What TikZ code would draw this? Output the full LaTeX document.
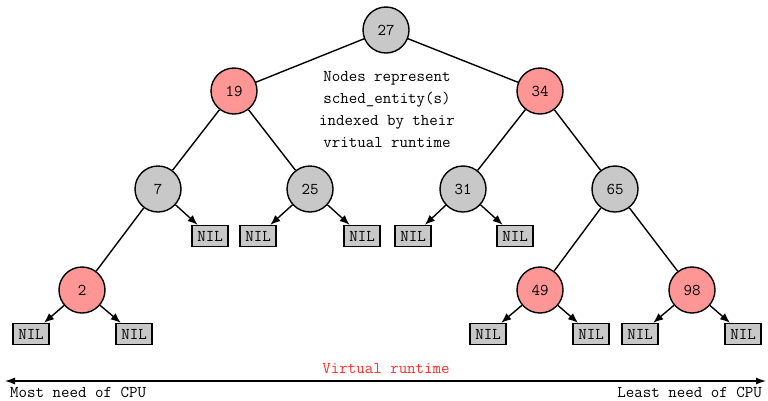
\documentclass[tikz,border=0pt]{standalone}
\usetikzlibrary{arrows.meta}
\definecolor{NodeGray}{HTML}{C8C8C8}
\definecolor{NodeRed}{HTML}{FF9696}
\definecolor{LabelRed}{HTML}{FF3030}

\begin{document}
\begin{tikzpicture}[
      x=1pt, y=-1pt,
      every node/.style={font=\fontsize{16.5}{22}\ttfamily},
      blk/.style={circle, draw, line width=1.4pt, fill=NodeGray, minimum size=46pt, inner sep=0pt},
      red/.style={circle, draw, line width=1.4pt, fill=NodeRed, minimum size=46pt, inner sep=0pt},
      nil/.style={draw, line width=1.4pt, fill=NodeGray, minimum width=36pt, minimum height=21pt, inner sep=0pt},
      edge/.style={line width=1.4pt},
      arrow/.style={-{Latex[length=10pt,width=8pt]}, line width=1.4pt}
    ]
    \useasboundingbox (0,0) rectangle (768,400);

    % tree nodes
    \node[blk] (n27) at (386,30) {27};
    \node[red] (n19) at (234,91) {19};
    \node[red] (n34) at (540,91) {34};
    \node[blk] (n7)  at (158,189) {7};
    \node[blk] (n25) at (310,189) {25};
    \node[blk] (n31) at (463,189) {31};
    \node[blk] (n65) at (615,189) {65};
    \node[red] (n2)  at (82,290) {2};
    \node[red] (n49) at (540,290) {49};
    \node[red] (n98) at (692,290) {98};

    % leaves
    \node[nil] (nilA) at (210,236) {NIL};
    \node[nil] (nilB) at (258,236) {NIL};
    \node[nil] (nilC) at (362,236) {NIL};
    \node[nil] (nilD) at (413,236) {NIL};
    \node[nil] (nilE) at (515,236) {NIL};
    \node[nil] (nilF) at (31,334) {NIL};
    \node[nil] (nilG) at (134,334) {NIL};
    \node[nil] (nilH) at (488,334) {NIL};
    \node[nil] (nilI) at (591,334) {NIL};
    \node[nil] (nilJ) at (640,334) {NIL};
    \node[nil] (nilK) at (743,334) {NIL};

    \node[align=center] (note) at (387,110) {Nodes represent\\sched\_entity(s)\\indexed by their\\vritual runtime};

    \draw[edge] (n27) -- (n19);
    \draw[edge] (n27) -- (n34);
    \draw[edge] (n19) -- (n7);
    \draw[edge] (n19) -- (n25);
    \draw[edge] (n34) -- (n31);
    \draw[edge] (n34) -- (n65);
    \draw[edge] (n7) -- (n2);
    \draw[edge] (n65) -- (n49);
    \draw[edge] (n65) -- (n98);

    \draw[arrow] (n7) -- (nilA);
    \draw[arrow] (n25) -- (nilB);
    \draw[arrow] (n25) -- (nilC);
    \draw[arrow] (n31) -- (nilD);
    \draw[arrow] (n31) -- (nilE);
    \draw[arrow] (n2) -- (nilF);
    \draw[arrow] (n2) -- (nilG);
    \draw[arrow] (n49) -- (nilH);
    \draw[arrow] (n49) -- (nilI);
    \draw[arrow] (n98) -- (nilJ);
    \draw[arrow] (n98) -- (nilK);

    % runtime axis
    \coordinate (most) at (5,381);
    \coordinate (least) at (766,381);
    \draw[{Latex[length=10pt,width=7pt]}-{Latex[length=10pt,width=7pt]}, line width=1.2pt] (most) -- (least);
    \node[text=LabelRed] (axis) at (386,369) {Virtual runtime};
    \node[anchor=base west, inner sep=0pt] (mostlbl) at (10,397) {Most need of CPU};
    \node[anchor=base east, inner sep=0pt] (leastlbl) at (762,397) {Least need of CPU};
\end{tikzpicture}
\end{document}
